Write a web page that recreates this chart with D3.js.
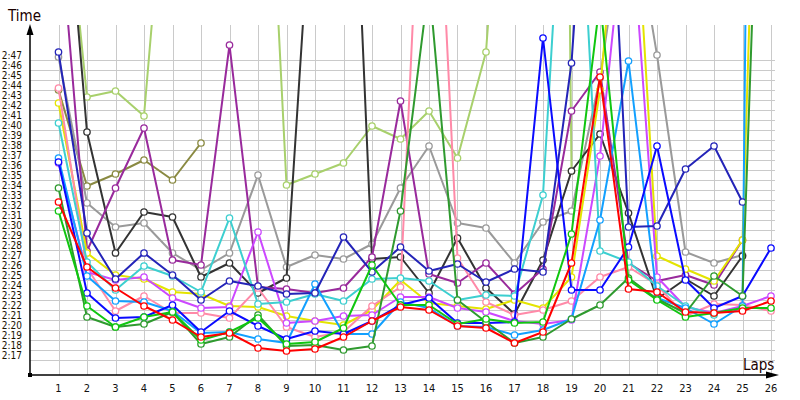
<!DOCTYPE html>
<html>
<head>
<meta charset="utf-8">
<script src="https://cdn.jsdelivr.net/npm/d3@7"></script>
<style>
  html, body { margin: 0; padding: 0; background: #fff; }
  svg { display: block; }
  text { font-family: "DejaVu Sans Condensed", "DejaVu Sans", sans-serif; font-stretch: condensed; }
</style>
</head>
<body>
<svg id="chart" width="800" height="400"></svg>
<script>
// Laps 1..26; values are seconds past 2:00 (values above ~50.5 run off the top of the chart)
const laps = d3.range(1, 27);
const yTickSeconds = d3.range(17, 48);
const yTickLabels = yTickSeconds.map(s => "2:" + String(s).padStart(2, "0"));
const xTickLabels = laps.map(String);

const seriesNames = ["yellowGreen", "olive", "gray", "black", "purple", "yellow", "pink", "violet",
                     "cyan", "dodger", "darkBlue", "blue", "darkGreen", "green", "red"];
const seriesColors = ["#a8d06c", "#8a8a42", "#9a9a9a", "#333333", "#992a9c", "#e4e400", "#ff8aa8", "#cc48ff",
                      "#3ccfd0", "#12a0ff", "#2424b8", "#0a0aff", "#2f9a2f", "#10c610", "#ff0000"];

const yellowGreen = [71.5, 43.3, 43.9, 41.4, 75, 90, 90, 91.6, 34.5, 35.6, 36.7, 40.4, 39.1, 41.9, 37.2, 47.8, 86.6, 300, 35.9, null, null, null, null, null, null, null];
const olive       = [44.0, 34.4, 35.6, 37.0, 35.0, 38.7, null, null, null, null, null, null, null, null, null, null, null, null, null, null, null, null, null, null, null, null];
const gray        = [47.3, 32.7, 30.3, 30.7, 27.7, 26.0, 27.7, 35.5, 26.3, 27.5, 27.1, 28.6, 34.2, 38.4, 30.7, 30.2, 26.7, 30.8, 31.9, 45.2, 64.6, 47.5, 27.8, 26.7, 27.5, null];
const black       = [73.7, 39.8, 27.7, 31.8, 31.3, 25.3, 26.7, 23.7, 25.2, 69.3, 93.4, 27.1, 27.3, 23.7, 29.2, 24.2, 21.6, 27.0, 35.9, 39.6, 31.7, 23.1, 25.1, 23.4, 27.4, null];
const purple      = [62.2, 27.9, 34.2, 40.2, 27.0, 26.5, 48.5, 24.3, 24.1, 23.7, 24.2, 27.3, 42.9, 25.6, 24.7, 26.7, 23.6, 26.1, 41.9, 45.8, 26.7, 24.9, 25.5, 24.5, 29.0, null];
const yellow      = [42.7, 27.7, 25.5, 25.1, 23.8, 23.6, 22.4, 22.3, 21.4, 20.9, 20.5, 22.0, 25.0, 22.7, 22.4, 22.1, 23.0, 22.2, 25.3, 44, 75, 27.4, 26.1, 24.9, 29.0, 120];
const pink        = [44.2, 26.2, 21.9, 23.4, 21.7, 21.7, 21.2, 24.2, 20.3, 19.3, 19.8, 22.4, 24.3, 85.7, 27.2, 22.8, 21.5, 22.0, 22.9, 25.3, 26.3, 24.5, 21.4, 22.6, 22.5, 21.9];
const violet      = [36.7, 25.8, 25.0, 25.3, 23.2, 22.2, 22.3, 29.8, 20.7, 20.9, 21.4, 21.5, 23.3, 23.3, 22.2, 21.8, 20.9, 20.6, 21.0, 37.4, 65, 25.3, 22.3, 21.7, 22.4, 23.4];
const cyan        = [40.7, 26.8, 24.0, 26.4, 25.4, 23.8, 31.2, 22.6, 22.8, 23.6, 22.9, 25.1, 25.2, 24.9, 23.0, 23.5, 23.4, 33.5, 82, 27.9, 26.8, 24.4, 22.4, 21.5, null, null];
const dodger      = [37.2, 25.4, 22.9, 22.8, 21.9, 19.7, 19.8, 19.1, 18.7, 24.6, 19.6, 19.6, 22.8, 22.2, 20.4, 20.3, 19.5, 20.0, 21.1, 31.0, 46.9, 23.2, 22.2, 20.6, 22.4, 300];
const darkBlue    = [47.8, 29.7, 25.1, 27.7, 25.5, 23.0, 24.9, 24.4, 23.6, 23.7, 29.3, 25.8, 28.3, 25.9, 26.6, 24.8, 26.1, 25.8, 46.7, 88, 30.3, 30.4, 36.1, 38.4, 32.8, null];
const blue        = [36.8, 23.7, 21.2, 21.3, 22.5, 19.8, 21.9, 20.4, 19.1, 19.9, 19.6, 20.9, 22.5, 23.2, 20.7, 20.7, 20.8, 49.2, 24.0, 24.0, 28.3, 38.4, 25.0, 22.2, 23.4, 28.2];
const darkGreen   = [34.2, 21.3, 20.3, 20.6, 21.8, 18.6, 19.3, 21.5, 18.4, 18.5, 18.0, 18.4, 31.9, 54.7, 23.0, 20.8, 18.7, 19.3, 21.1, 22.5, 25.2, 23.1, 21.7, 25.4, 23.4, 105];
const green       = [31.9, 22.4, 20.3, 21.3, 21.8, 19.0, 19.8, 21.2, 18.6, 18.8, 20.2, 26.5, 22.5, 22.5, 20.6, 21.1, 20.7, 20.8, 29.6, 53.0, 25.0, 23.0, 21.3, 21.7, 22.2, 22.2];
const red         = [32.8, 26.3, 24.2, 22.4, 21.0, 19.3, 19.7, 18.2, 17.9, 18.1, 19.3, 20.9, 22.3, 22.0, 20.4, 20.2, 18.7, 19.8, 26.7, 45.3, 24.1, 23.8, 21.8, 21.7, 21.9, 22.9];

const seriesValues = [yellowGreen, olive, gray, black, purple, yellow, pink, violet,
                      cyan, dodger, darkBlue, blue, darkGreen, green, red];

const svg = d3.select("#chart");
const x = d3.scaleLinear().domain([0, 26]).range([30, 771]);
const y = d3.scaleLinear().domain([15.5, 50.5]).range([375, 25]);
const plotLeft = 30, plotRight = 775, plotTop = 25, plotBottom = 375;

// grid
const grid = svg.append("g").attr("stroke", "#cacaca").attr("stroke-width", 1);
grid.selectAll("line.h").data(yTickSeconds).join("line")
  .attr("x1", plotLeft).attr("x2", plotRight)
  .attr("y1", d => Math.round(y(d)) + 0.5).attr("y2", d => Math.round(y(d)) + 0.5);
grid.selectAll("line.v").data(laps).join("line")
  .attr("y1", plotTop).attr("y2", plotBottom)
  .attr("x1", d => Math.round(x(d)) + 0.5).attr("x2", d => Math.round(x(d)) + 0.5);

// y tick labels
svg.append("g").selectAll("text").data(yTickSeconds).join("text")
  .attr("x", 22).attr("y", d => y(d) - 1.5)
  .attr("text-anchor", "end").attr("font-size", 10).attr("fill", "#1a1200")
  .text((d, i) => yTickLabels[i]);

// x tick labels
svg.append("g").selectAll("text").data(laps).join("text")
  .attr("x", d => x(d)).attr("y", 392)
  .attr("text-anchor", "middle").attr("font-size", 11).attr("fill", "#111")
  .text((d, i) => xTickLabels[i]);

// series
svg.append("defs").append("clipPath").attr("id", "plotclip")
  .append("rect").attr("x", plotLeft).attr("y", plotTop)
  .attr("width", plotRight - plotLeft + 10).attr("height", plotBottom - plotTop);

const line = d3.line()
  .defined(d => d.v !== null)
  .x(d => x(d.lap)).y(d => y(d.v));

const plot = svg.append("g").attr("clip-path", "url(#plotclip)");
seriesNames.forEach((name, si) => {
  const pts = seriesValues[si].map((v, i) => ({lap: laps[i], v: v}));
  const g = plot.append("g").attr("class", "series-" + name);
  g.append("path").datum(pts)
    .attr("fill", "none").attr("stroke", seriesColors[si])
    .attr("stroke-width", 2).attr("stroke-linejoin", "round")
    .attr("d", line);
  g.selectAll("circle").data(pts.filter(d => d.v !== null)).join("circle")
    .attr("cx", d => x(d.lap)).attr("cy", d => y(d.v)).attr("r", 3.2)
    .attr("fill", "#fff").attr("stroke", seriesColors[si]).attr("stroke-width", 1.3);
});

// axes
const ax = svg.append("g");
ax.append("line").attr("x1", 30).attr("x2", 30).attr("y1", 375).attr("y2", 33)
  .attr("stroke", "#000").attr("stroke-width", 1.5);
ax.append("path").attr("d", "M30,24 L26.5,35 L33.5,35 Z").attr("fill", "#000");
ax.append("line").attr("x1", 30).attr("x2", 770).attr("y1", 375).attr("y2", 375)
  .attr("stroke", "#000").attr("stroke-width", 1.5);
ax.append("path").attr("d", "M779,375 L766,371.5 L766,378.5 Z").attr("fill", "#000");
ax.append("rect").attr("x", 28).attr("y", 373).attr("width", 4).attr("height", 4).attr("fill", "#000");

svg.append("text").attr("x", 8).attr("y", 21).attr("font-size", 15).attr("fill", "#1a0000").text("Time");
svg.append("text").attr("x", 743).attr("y", 370).attr("font-size", 15).attr("fill", "#1a0000").text("Laps");
</script>
</body>
</html>
